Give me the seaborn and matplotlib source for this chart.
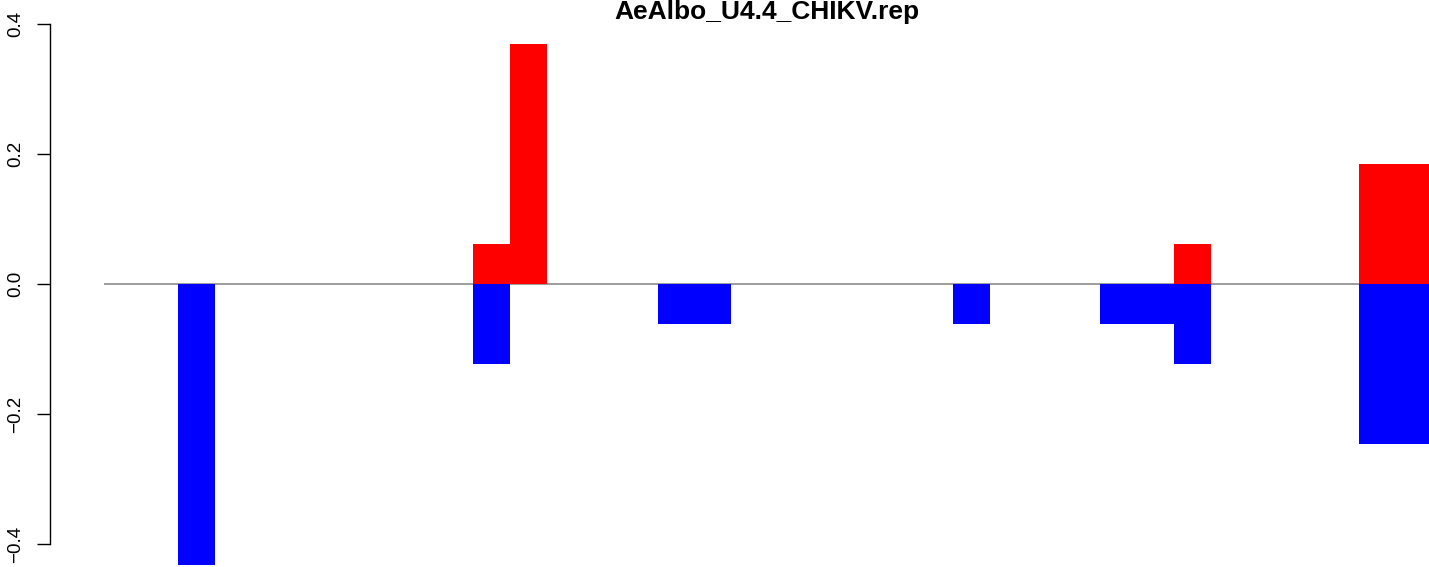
import pandas as pd
import matplotlib
matplotlib.use('Agg')
import matplotlib.pyplot as plt
import seaborn as sns

# Bar values (36 adjacent bars, no gaps)
title = 'AeAlbo_U4.4_CHIKV.rep'
positions = list(range(36))
up_values = [0, 0, 0, 0, 0, 0, 0, 0, 0, 0,
             0.0617, 0.3690, 0, 0, 0, 0, 0, 0, 0, 0,
             0, 0, 0, 0, 0, 0, 0, 0, 0, 0.0617,
             0, 0, 0, 0, 0.1852, 0.1852]
down_values = [0, 0, -0.4321, 0, 0, 0, 0, 0, 0, 0,
               -0.1235, 0, 0, 0, 0, -0.0617, -0.0617, 0, 0, 0,
               0, 0, 0, -0.0617, 0, 0, 0, -0.0617, -0.0617, -0.1235,
               0, 0, 0, 0, -0.2469, -0.2469]
y_ticks = [-0.4, -0.2, 0.0, 0.2, 0.4]

df = pd.concat([
    pd.DataFrame({'pos': positions, 'value': up_values, 'dir': 'up'}),
    pd.DataFrame({'pos': positions, 'value': down_values, 'dir': 'down'}),
])

sns.set_style('white')
plt.rcParams['font.family'] = ['Liberation Sans', 'DejaVu Sans']
plt.rcParams['text.color'] = 'black'
plt.rcParams['ytick.color'] = 'black'
plt.rcParams['ytick.labelcolor'] = 'black'

W, H = 1429, 567
fig = plt.figure(figsize=(W / 100, H / 100), dpi=100)
# axes spans from x=50px to the right edge, y=22px to the bottom edge
ax = fig.add_axes([50 / W, 0, 1 - 50 / W, (H - 22) / H])

sns.barplot(data=df, x='pos', y='value', hue='dir', order=positions,
            palette={'up': '#ff0000', 'down': '#0000ff'}, dodge=False,
            width=1.0, errorbar=None, legend=False, linewidth=0,
            saturation=1, ax=ax)

# zero reference line starting at the first bar
ax.hlines(0, -0.5, 36, color='#8c8c8c', lw=1.2, zorder=0.5)

ax.set_xlim(-0.5 - 1.46, 35.4)
ax.set_ylim(-(567 - 284) / 650, (284 - 22) / 650)

for side in ['top', 'right', 'bottom']:
    ax.spines[side].set_visible(False)
ax.spines['left'].set_bounds(-0.4, 0.4)
ax.spines['left'].set_linewidth(1.0)
ax.spines['left'].set_color('black')

ax.set_xticks([])
ax.set_xlabel('')
ax.set_ylabel('')
ax.set_yticks(y_ticks)
ax.set_yticklabels(['\u22120.4', '\u22120.2', '0.0', '0.2', '0.4'])
ax.tick_params(axis='y', left=True, length=9.5, width=1.0, pad=9,
               labelsize=13.5, color='black', labelcolor='black')
plt.setp(ax.get_yticklabels(), rotation=90, va='center')

fig.text(766.5 / W, 1 - 19 / H, title, ha='center', va='baseline',
         fontsize=19, fontweight='bold', color='black')

fig.savefig('out.png', dpi=100)
plt.close(fig)
